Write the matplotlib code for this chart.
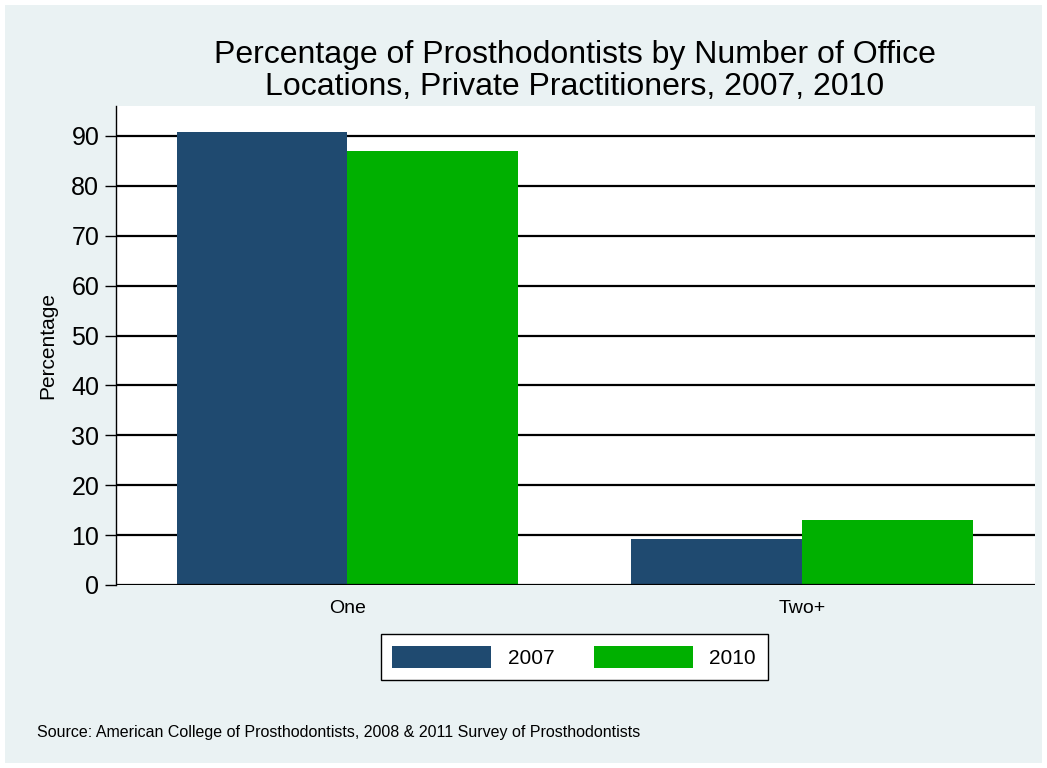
import matplotlib.pyplot as plt
import numpy as np
from matplotlib import rcParams

rcParams['font.family'] = ['Liberation Sans', 'DejaVu Sans']

BG = '#eaf2f3'
C2007 = '#1f4a70'
C2010 = '#00b000'

categories = ['One', 'Two+']
years = ['2007', '2010']
pct_2007 = [90.7, 9.3]
pct_2010 = [86.9, 13.0]
yticks = [0, 10, 20, 30, 40, 50, 60, 70, 80, 90]

W, H, DPI = 1047, 768, 100
fig = plt.figure(figsize=(W / DPI, H / DPI), dpi=DPI, facecolor='white')

# light outer panel with thin white border
fig.patches.append(plt.Rectangle((5 / W, 5 / H), 1 - 10 / W, 1 - 10 / H,
                                 transform=fig.transFigure, facecolor=BG,
                                 edgecolor='none', zorder=-10))

ax = fig.add_axes([116 / W, 1 - 585 / H, (1035 - 116) / W, (585 - 106) / H],
                  facecolor='white')

x = np.arange(len(categories))
bw = 0.375
ax.bar(x - bw / 2, pct_2007, bw, color=C2007, label=years[0], zorder=3)
ax.bar(x + bw / 2, pct_2010, bw, color=C2010, label=years[1], zorder=3)

ax.set_xlim(-0.508, 1.512)
ax.set_ylim(0, 96)
ax.set_yticks(yticks)
ax.set_xticks(x)
ax.set_xticklabels(categories, fontsize=14)
ax.tick_params(axis='y', labelsize=18, length=8, width=1, direction='out', pad=4)
ax.tick_params(axis='x', length=0, pad=11)
for t in yticks[1:]:
    ax.axhline(t, color='black', lw=1.6, zorder=1)
ax.axhline(0, color='black', lw=1.6, zorder=4)

for s in ['top', 'right', 'bottom']:
    ax.spines[s].set_visible(False)
ax.spines['left'].set_linewidth(1)

ax.set_ylabel('Percentage', fontsize=15, labelpad=10)

fig.text(575 / W, 1 - 55 / H, 'Percentage of Prosthodontists by Number of Office',
         ha='center', va='center', fontsize=23)
fig.text(575 / W, 1 - 87 / H, 'Locations, Private Practitioners, 2007, 2010',
         ha='center', va='center', fontsize=23)

leg = fig.legend(loc='center', bbox_to_anchor=(574 / W, 1 - 657 / H), ncol=2,
                 fontsize=15, frameon=True, fancybox=False, edgecolor='black',
                 handlelength=4.75, handleheight=1.3, columnspacing=1.9,
                 handletextpad=0.8, borderpad=0.55)
leg.get_frame().set_linewidth(1)
leg.get_frame().set_facecolor('white')
leg.get_frame().set_alpha(1)

fig.text(37 / W, 1 - 733 / H,
         'Source: American College of Prosthodontists, 2008 & 2011 Survey of Prosthodontists',
         ha='left', va='center', fontsize=11.5)

fig.savefig('out.png', dpi=DPI, facecolor='white')
